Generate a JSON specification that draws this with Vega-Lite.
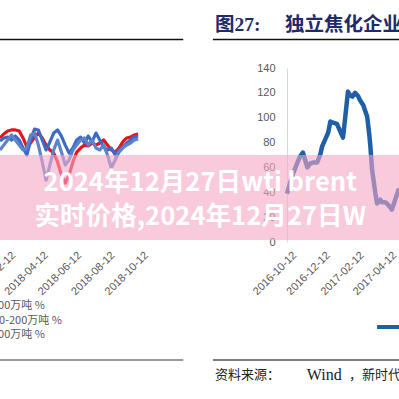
{
  "$schema": "https://vega.github.io/schema/vega-lite/v6.json",
  "width": 399,
  "height": 399,
  "padding": 0,
  "autosize": {"type": "none"},
  "background": "white",
  "config": {
    "view": {"stroke": null},
    "axis": {"labelFont": "Liberation Sans", "labelFontSize": 11, "labelColor": "#595959", "ticks": false, "grid": false, "domain": false, "title": null, "labelOverlap": false, "labelFlush": false, "labelBound": false}
  },
  "datasets": {
    "left": [
      {"date":"2018-01-26","s":"产能<100万吨 %","v":59.8},{"date":"2018-02-02","s":"产能<100万吨 %","v":62.1},{"date":"2018-02-09","s":"产能<100万吨 %","v":63.8},{"date":"2018-02-16","s":"产能<100万吨 %","v":64.4},{"date":"2018-02-23","s":"产能<100万吨 %","v":64.4},{"date":"2018-03-02","s":"产能<100万吨 %","v":63.8},{"date":"2018-03-09","s":"产能<100万吨 %","v":59.8},{"date":"2018-03-16","s":"产能<100万吨 %","v":54.6},{"date":"2018-03-23","s":"产能<100万吨 %","v":56.9},{"date":"2018-03-30","s":"产能<100万吨 %","v":60.3},{"date":"2018-04-06","s":"产能<100万吨 %","v":62.6},{"date":"2018-04-13","s":"产能<100万吨 %","v":59.8},{"date":"2018-04-20","s":"产能<100万吨 %","v":55.7},{"date":"2018-04-27","s":"产能<100万吨 %","v":52.9},{"date":"2018-05-04","s":"产能<100万吨 %","v":51.1},{"date":"2018-05-11","s":"产能<100万吨 %","v":46.0},{"date":"2018-05-18","s":"产能<100万吨 %","v":38.5},{"date":"2018-05-25","s":"产能<100万吨 %","v":33.9},{"date":"2018-06-01","s":"产能<100万吨 %","v":38.5},{"date":"2018-06-08","s":"产能<100万吨 %","v":46.0},{"date":"2018-06-15","s":"产能<100万吨 %","v":51.7},{"date":"2018-06-22","s":"产能<100万吨 %","v":54.0},{"date":"2018-06-29","s":"产能<100万吨 %","v":55.7},{"date":"2018-07-06","s":"产能<100万吨 %","v":55.2},{"date":"2018-07-13","s":"产能<100万吨 %","v":56.9},{"date":"2018-07-20","s":"产能<100万吨 %","v":55.7},{"date":"2018-07-27","s":"产能<100万吨 %","v":56.9},{"date":"2018-08-03","s":"产能<100万吨 %","v":58.6},{"date":"2018-08-10","s":"产能<100万吨 %","v":55.7},{"date":"2018-08-17","s":"产能<100万吨 %","v":52.9},{"date":"2018-08-24","s":"产能<100万吨 %","v":51.7},{"date":"2018-08-31","s":"产能<100万吨 %","v":54.0},{"date":"2018-09-07","s":"产能<100万吨 %","v":57.5},{"date":"2018-09-14","s":"产能<100万吨 %","v":59.8},{"date":"2018-09-21","s":"产能<100万吨 %","v":60.3},{"date":"2018-09-28","s":"产能<100万吨 %","v":61.5},{"date":"2018-10-05","s":"产能<100万吨 %","v":62.1},
      {"date":"2018-01-26","s":"产能100-200万吨 %","v":58.0},{"date":"2018-02-02","s":"产能100-200万吨 %","v":59.8},{"date":"2018-02-09","s":"产能100-200万吨 %","v":60.3},{"date":"2018-02-16","s":"产能100-200万吨 %","v":58.6},{"date":"2018-02-23","s":"产能100-200万吨 %","v":60.9},{"date":"2018-03-02","s":"产能100-200万吨 %","v":58.6},{"date":"2018-03-09","s":"产能100-200万吨 %","v":54.0},{"date":"2018-03-16","s":"产能100-200万吨 %","v":50.0},{"date":"2018-03-23","s":"产能100-200万吨 %","v":58.6},{"date":"2018-03-30","s":"产能100-200万吨 %","v":64.9},{"date":"2018-04-06","s":"产能100-200万吨 %","v":64.4},{"date":"2018-04-13","s":"产能100-200万吨 %","v":58.6},{"date":"2018-04-20","s":"产能100-200万吨 %","v":52.9},{"date":"2018-04-27","s":"产能100-200万吨 %","v":57.5},{"date":"2018-05-04","s":"产能100-200万吨 %","v":62.6},{"date":"2018-05-11","s":"产能100-200万吨 %","v":64.4},{"date":"2018-05-18","s":"产能100-200万吨 %","v":60.9},{"date":"2018-05-25","s":"产能100-200万吨 %","v":55.7},{"date":"2018-06-01","s":"产能100-200万吨 %","v":51.1},{"date":"2018-06-08","s":"产能100-200万吨 %","v":54.0},{"date":"2018-06-15","s":"产能100-200万吨 %","v":58.6},{"date":"2018-06-22","s":"产能100-200万吨 %","v":60.3},{"date":"2018-06-29","s":"产能100-200万吨 %","v":56.9},{"date":"2018-07-06","s":"产能100-200万吨 %","v":60.9},{"date":"2018-07-13","s":"产能100-200万吨 %","v":57.5},{"date":"2018-07-20","s":"产能100-200万吨 %","v":62.6},{"date":"2018-07-27","s":"产能100-200万吨 %","v":58.6},{"date":"2018-08-03","s":"产能100-200万吨 %","v":54.6},{"date":"2018-08-10","s":"产能100-200万吨 %","v":52.9},{"date":"2018-08-17","s":"产能100-200万吨 %","v":54.0},{"date":"2018-08-24","s":"产能100-200万吨 %","v":50.0},{"date":"2018-08-31","s":"产能100-200万吨 %","v":52.9},{"date":"2018-09-07","s":"产能100-200万吨 %","v":54.6},{"date":"2018-09-14","s":"产能100-200万吨 %","v":56.9},{"date":"2018-09-21","s":"产能100-200万吨 %","v":58.6},{"date":"2018-09-28","s":"产能100-200万吨 %","v":60.3},{"date":"2018-10-05","s":"产能100-200万吨 %","v":60.9},
      {"date":"2018-01-26","s":"产能>200万吨 %","v":52.9},{"date":"2018-02-02","s":"产能>200万吨 %","v":55.7},{"date":"2018-02-09","s":"产能>200万吨 %","v":58.6},{"date":"2018-02-16","s":"产能>200万吨 %","v":61.5},{"date":"2018-02-23","s":"产能>200万吨 %","v":58.6},{"date":"2018-03-02","s":"产能>200万吨 %","v":55.7},{"date":"2018-03-09","s":"产能>200万吨 %","v":52.9},{"date":"2018-03-16","s":"产能>200万吨 %","v":54.0},{"date":"2018-03-23","s":"产能>200万吨 %","v":61.5},{"date":"2018-03-30","s":"产能>200万吨 %","v":62.6},{"date":"2018-04-06","s":"产能>200万吨 %","v":55.7},{"date":"2018-04-13","s":"产能>200万吨 %","v":46.0},{"date":"2018-04-20","s":"产能>200万吨 %","v":35.6},{"date":"2018-04-27","s":"产能>200万吨 %","v":44.3},{"date":"2018-05-04","s":"产能>200万吨 %","v":52.9},{"date":"2018-05-11","s":"产能>200万吨 %","v":58.6},{"date":"2018-05-18","s":"产能>200万吨 %","v":51.7},{"date":"2018-05-25","s":"产能>200万吨 %","v":44.3},{"date":"2018-06-01","s":"产能>200万吨 %","v":47.1},{"date":"2018-06-08","s":"产能>200万吨 %","v":52.9},{"date":"2018-06-15","s":"产能>200万吨 %","v":55.7},{"date":"2018-06-22","s":"产能>200万吨 %","v":58.6},{"date":"2018-06-29","s":"产能>200万吨 %","v":59.8},{"date":"2018-07-06","s":"产能>200万吨 %","v":55.7},{"date":"2018-07-13","s":"产能>200万吨 %","v":58.6},{"date":"2018-07-20","s":"产能>200万吨 %","v":54.0},{"date":"2018-07-27","s":"产能>200万吨 %","v":52.9},{"date":"2018-08-03","s":"产能>200万吨 %","v":55.7},{"date":"2018-08-10","s":"产能>200万吨 %","v":50.0},{"date":"2018-08-17","s":"产能>200万吨 %","v":42.5},{"date":"2018-08-24","s":"产能>200万吨 %","v":47.1},{"date":"2018-08-31","s":"产能>200万吨 %","v":51.7},{"date":"2018-09-07","s":"产能>200万吨 %","v":54.0},{"date":"2018-09-14","s":"产能>200万吨 %","v":55.7},{"date":"2018-09-21","s":"产能>200万吨 %","v":56.9},{"date":"2018-09-28","s":"产能>200万吨 %","v":58.6},{"date":"2018-10-05","s":"产能>200万吨 %","v":59.2}
    ],
    "right": [
      {"date":"2016-10-06","v":39},{"date":"2016-10-12","v":48},{"date":"2016-10-17","v":55},{"date":"2016-10-25","v":64},{"date":"2016-10-30","v":69},{"date":"2016-11-04","v":72},{"date":"2016-11-08","v":66},{"date":"2016-11-12","v":60},{"date":"2016-11-17","v":63},{"date":"2016-11-23","v":64},{"date":"2016-11-30","v":64},{"date":"2016-12-06","v":71},{"date":"2016-12-09","v":77},{"date":"2016-12-15","v":83},{"date":"2016-12-20","v":88},{"date":"2016-12-24","v":97},{"date":"2016-12-29","v":96},{"date":"2017-01-05","v":95},{"date":"2017-01-11","v":89},{"date":"2017-01-16","v":84},{"date":"2017-01-20","v":100},{"date":"2017-01-25","v":121},{"date":"2017-01-29","v":118},{"date":"2017-02-02","v":117},{"date":"2017-02-07","v":120},{"date":"2017-02-13","v":117},{"date":"2017-02-16","v":114},{"date":"2017-02-22","v":110},{"date":"2017-02-25","v":106},{"date":"2017-03-01","v":101},{"date":"2017-03-05","v":86},{"date":"2017-03-07","v":76},{"date":"2017-03-10","v":58},{"date":"2017-03-16","v":39},{"date":"2017-03-19","v":31},{"date":"2017-03-25","v":34},{"date":"2017-03-28","v":32},{"date":"2017-04-03","v":32},{"date":"2017-04-06","v":31},{"date":"2017-04-12","v":28},{"date":"2017-04-15","v":26},{"date":"2017-04-21","v":34},{"date":"2017-04-24","v":38},{"date":"2017-04-28","v":43}
    ]
  },
  "layer": [
    {
      "data": {"name": "left"},
      "mark": {"type": "line", "strokeWidth": 3.2, "strokeJoin": "round"},
      "encoding": {
        "x": {"field": "date", "type": "temporal",
          "scale": {"domain": [{"year": 2018, "month": 1, "date": 26}, {"year": 2018, "month": 10, "date": 12}], "range": [0, 142]},
          "axis": {"orient": "bottom", "offset": -156, "labelAngle": -45, "format": "%Y-%m-%d", "labelPadding": 6,
            "values": [{"year": 2018, "month": 2, "date": 12}, {"year": 2018, "month": 4, "date": 12}, {"year": 2018, "month": 6, "date": 12}, {"year": 2018, "month": 8, "date": 12}, {"year": 2018, "month": 10, "date": 12}]}},
        "y": {"field": "v", "type": "quantitative", "scale": {"domain": [0, 100], "range": [242, 68], "nice": false}, "axis": null},
        "color": {"field": "s", "type": "nominal",
          "scale": {"domain": ["产能>200万吨 %", "产能100-200万吨 %", "产能<100万吨 %"], "range": ["#5f82cf", "#3a6cc2", "#e8141c"]},
          "legend": null}
      }
    },
    {
      "data": {"values": [{}]},
      "layer": [
        {
          "data": {"name": "right"},
          "mark": {"type": "line", "strokeWidth": 4.5, "color": "#1f5fa8", "strokeJoin": "round"},
          "encoding": {
            "x": {"field": "date", "type": "temporal",
              "scale": {"domain": [{"year": 2016, "month": 10, "date": 6}, {"year": 2017, "month": 4, "date": 28}], "range": [287, 399]},
              "axis": {"orient": "bottom", "offset": -156, "labelAngle": -45, "format": "%Y-%m-%d", "labelPadding": 6,
                "values": [{"year": 2016, "month": 10, "date": 12}, {"year": 2016, "month": 12, "date": 12}, {"year": 2017, "month": 2, "date": 12}, {"year": 2017, "month": 4, "date": 12}, {"year": 2017, "month": 6, "date": 12}]}},
            "y": {"field": "v", "type": "quantitative", "scale": {"domain": [0, 140], "range": [242, 68], "nice": false},
              "axis": {"orient": "left", "offset": -287, "domain": true, "domainColor": "#d9d9d9", "labelPadding": 12, "values": [0, 20, 40, 60, 80, 100, 120, 140]}}
          }
        },
        {
          "mark": {"type": "rect", "fill": "#f4a6c4", "fillOpacity": 0.6},
          "encoding": {
            "x": {"datum": {"year": 2015, "month": 1, "date": 1}, "type": "temporal"},
            "x2": {"datum": {"year": 2017, "month": 12, "date": 31}},
            "y": {"datum": 1.6, "type": "quantitative"},
            "y2": {"datum": 70}
          }
        },
        {
          "mark": {"type": "text", "font": "Noto Sans CJK SC", "fontWeight": "bold", "fontSize": 25.6, "color": "white", "align": "center", "baseline": "middle"},
          "encoding": {
            "x": {"datum": {"year": 2016, "month": 5, "date": 1}, "type": "temporal"},
            "y": {"datum": 47.5, "type": "quantitative"},
            "text": {"value": "2024年12月27日wti brent"}
          }
        },
        {
          "mark": {"type": "text", "font": "Noto Sans CJK SC", "fontWeight": "bold", "fontSize": 25.6, "color": "white", "align": "center", "baseline": "middle"},
          "encoding": {
            "x": {"datum": {"year": 2016, "month": 5, "date": 1}, "type": "temporal"},
            "y": {"datum": 20.1, "type": "quantitative"},
            "text": {"value": "实时价格,2024年12月27日W"}
          }
        },
        {
          "mark": {"type": "text", "font": "Liberation Serif, Noto Sans CJK SC", "fontWeight": "bold", "fontSize": 19.5, "color": "#1f2a6b", "align": "left", "baseline": "middle"},
          "encoding": {
            "x": {"datum": {"year": 2016, "month": 5, "date": 28}, "type": "temporal"},
            "y": {"datum": 174.6, "type": "quantitative"},
            "text": {"value": "图27:　 独立焦化企业开工率"}
          }
        },
        {
          "mark": {"type": "rule", "color": "#111111", "strokeWidth": 1.5},
          "encoding": {
            "x": {"datum": {"year": 2015, "month": 1, "date": 1}, "type": "temporal"},
            "x2": {"datum": {"year": 2016, "month": 3, "date": 31}},
            "y": {"datum": 162.9, "type": "quantitative"}
          }
        },
        {
          "mark": {"type": "rule", "color": "#111111", "strokeWidth": 1.5},
          "encoding": {
            "x": {"datum": {"year": 2016, "month": 5, "date": 24}, "type": "temporal"},
            "x2": {"datum": {"year": 2017, "month": 12, "date": 31}},
            "y": {"datum": 162.9, "type": "quantitative"}
          }
        },
        {
          "mark": {"type": "rule", "color": "#777777", "strokeWidth": 1.5},
          "encoding": {
            "x": {"datum": {"year": 2015, "month": 1, "date": 1}, "type": "temporal"},
            "x2": {"datum": {"year": 2016, "month": 3, "date": 31}},
            "y": {"datum": -94.9, "type": "quantitative"}
          }
        },
        {
          "mark": {"type": "rule", "color": "#555555", "strokeWidth": 1.5},
          "encoding": {
            "x": {"datum": {"year": 2016, "month": 5, "date": 24}, "type": "temporal"},
            "x2": {"datum": {"year": 2017, "month": 12, "date": 31}},
            "y": {"datum": -94.9, "type": "quantitative"}
          }
        },
        {
          "mark": {"type": "text", "font": "Liberation Serif, Noto Sans CJK SC", "fontSize": 13, "color": "#222222", "align": "left", "baseline": "middle"},
          "encoding": {
            "x": {"datum": {"year": 2016, "month": 5, "date": 28}, "type": "temporal"},
            "y": {"datum": -107, "type": "quantitative"},
            "text": {"value": "资料来源："}
          }
        },
        {
          "mark": {"type": "text", "font": "Liberation Serif", "fontSize": 16, "color": "#222222", "align": "left", "baseline": "middle"},
          "encoding": {
            "x": {"datum": {"year": 2016, "month": 11, "date": 11}, "type": "temporal"},
            "y": {"datum": -107, "type": "quantitative"},
            "text": {"value": "Wind"}
          }
        },
        {
          "mark": {"type": "text", "font": "Noto Sans CJK SC", "fontSize": 13, "color": "#222222", "align": "left", "baseline": "middle"},
          "encoding": {
            "x": {"datum": {"year": 2017, "month": 1, "date": 27}, "type": "temporal"},
            "y": {"datum": -107, "type": "quantitative"},
            "text": {"value": "，新时代证券研究所"}
          }
        },
        {
          "mark": {"type": "text", "font": "Noto Sans CJK SC", "fontSize": 11, "color": "#595959", "align": "right", "baseline": "middle"},
          "encoding": {
            "x": {"datum": {"year": 2015, "month": 7, "date": 23}, "type": "temporal"},
            "y": {"datum": -51.5, "type": "quantitative"},
            "text": {"value": "产能<100万吨 %"}
          }
        },
        {
          "mark": {"type": "text", "font": "Noto Sans CJK SC", "fontSize": 11, "color": "#595959", "align": "right", "baseline": "middle"},
          "encoding": {
            "x": {"datum": {"year": 2015, "month": 8, "date": 23}, "type": "temporal"},
            "y": {"datum": -63.6, "type": "quantitative"},
            "text": {"value": "产能100-200万吨 %"}
          }
        },
        {
          "mark": {"type": "text", "font": "Noto Sans CJK SC", "fontSize": 11, "color": "#595959", "align": "right", "baseline": "middle"},
          "encoding": {
            "x": {"datum": {"year": 2015, "month": 7, "date": 23}, "type": "temporal"},
            "y": {"datum": -74.8, "type": "quantitative"},
            "text": {"value": "产能>200万吨 %"}
          }
        },
        {
          "mark": {"type": "rule", "color": "#1f5fa8", "strokeWidth": 4},
          "encoding": {
            "x": {"datum": {"year": 2017, "month": 3, "date": 19}, "type": "temporal"},
            "x2": {"datum": {"year": 2017, "month": 12, "date": 31}},
            "y": {"datum": -68.4, "type": "quantitative"}
          }
        }
      ]
    }
  ],
  "resolve": {"scale": {"x": "independent", "y": "independent", "color": "independent"}, "axis": {"x": "independent", "y": "independent"}}
}
